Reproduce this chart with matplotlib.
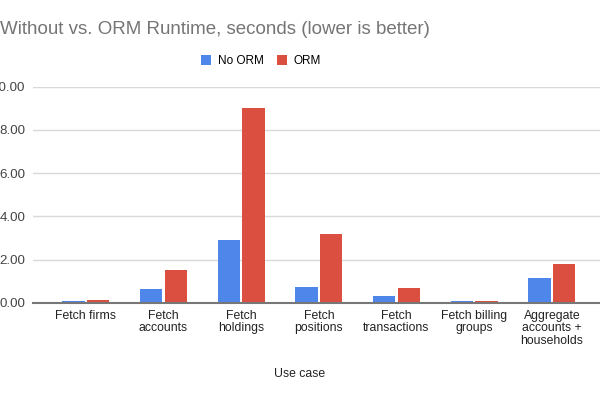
import numpy as np
import matplotlib
matplotlib.use('Agg')
import matplotlib.pyplot as plt

plt.rcParams['font.family'] = ['Liberation Sans', 'DejaVu Sans']

# data
use_cases = ['Fetch firms', 'Fetch\naccounts', 'Fetch\nholdings', 'Fetch\npositions',
             'Fetch\ntransactions', 'Fetch billing\ngroups', 'Aggregate\naccounts +\nhouseholds']
no_orm = [0.08, 0.63, 2.88, 0.73, 0.31, 0.06, 1.14]
orm = [0.12, 1.51, 9.01, 3.18, 0.70, 0.10, 1.81]
y_ticks = [0, 2, 4, 6, 8, 10]

BLUE = '#4e86ea'
RED = '#da4f3f'

fig = plt.figure(figsize=(6, 4), dpi=100)
ax = fig.add_axes([33 / 600, 1 - 302.7 / 400, 1 - 33 / 600, (302.7 - 86.7) / 400])

x = np.arange(len(use_cases))
w = 0.29
ax.bar(x - w / 2 - 0.014, no_orm, w, color=BLUE, label='No ORM', zorder=3)
ax.bar(x + w / 2 + 0.014, orm, w, color=RED, label='ORM', zorder=3)

ax.set_ylim(0, 10)
ax.set_xlim(-0.68, 6.62)
ax.set_yticks(y_ticks)
ax.set_yticklabels(['%.2f' % v for v in y_ticks], fontsize=9.6, color='#444444')
ax.set_xticks(x)
ax.set_xticklabels(use_cases, fontsize=8.8, color='#222222', linespacing=1.05)
ax.tick_params(axis='both', length=0)
ax.tick_params(axis='y', pad=5.5)
ax.tick_params(axis='x', pad=5)

ax.grid(axis='y', color='#d9d9d9', linewidth=1, zorder=0)
for s in ['top', 'right', 'left']:
    ax.spines[s].set_visible(False)
ax.spines['bottom'].set_color('#777777')
ax.spines['bottom'].set_linewidth(1.5)
ax.spines['bottom'].set_zorder(4)

fig.text(300 / 600, 1 - 374 / 400, 'Use case', ha='center', va='center', fontsize=8.8, color='#222222')
fig.text(0.5 / 600, 1 - 30 / 400, 'Without vs. ORM Runtime, seconds (lower is better)',
         ha='left', va='center', fontsize=13.5, color='#757575')

fig.legend(loc='center', bbox_to_anchor=(261 / 600, 1 - 61 / 400), ncol=2, frameon=False,
           fontsize=8.5, handlelength=0.9, handleheight=0.9, columnspacing=1.1, handletextpad=0.55)

fig.savefig('out.png', dpi=100)
